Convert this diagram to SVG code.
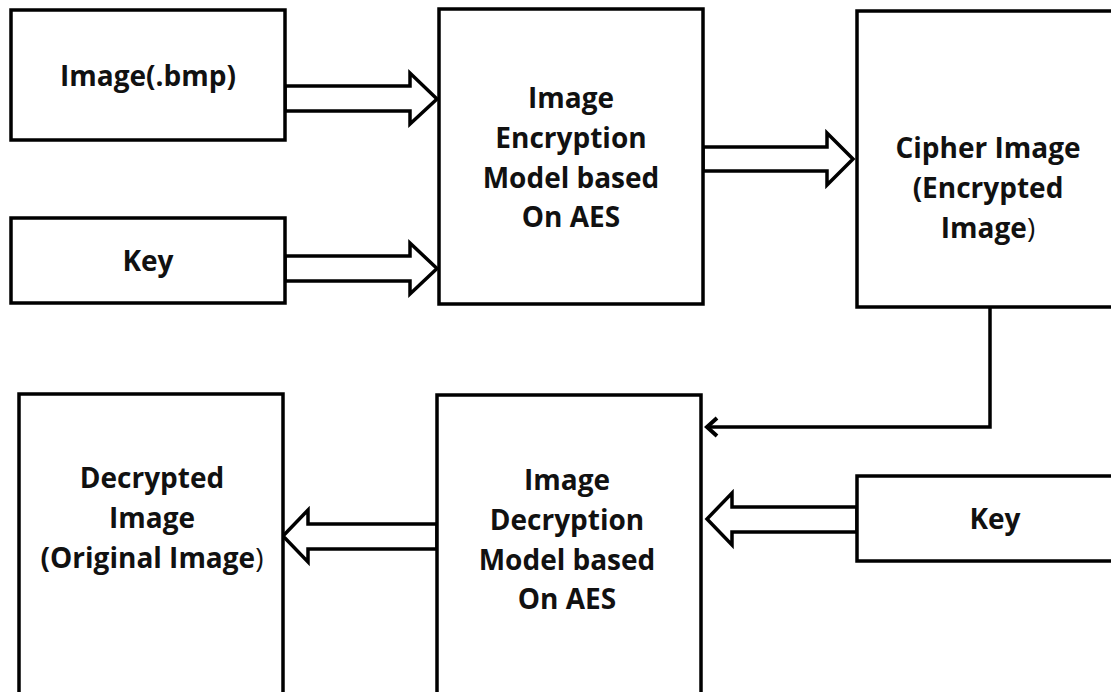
<svg xmlns="http://www.w3.org/2000/svg" width="1111" height="692" viewBox="0 0 1111 692">
  <style>
    .box { fill: #ffffff; stroke: #000000; stroke-width: 3.5; }
    .block { fill: #ffffff; stroke: #000000; stroke-width: 3.5; stroke-linejoin: miter; }
    .line { fill: none; stroke: #000000; stroke-width: 3.5; }
    .label { font-family: "Open Sans", Lato, sans-serif; font-weight: 700; font-size: 28px; fill: #111111; text-anchor: middle; }
    .thin { font-weight: 400; }
  </style>
  <defs>
    <marker id="chevron" viewBox="0 0 15 22" refX="13" refY="11" markerWidth="15" markerHeight="22" markerUnits="userSpaceOnUse" orient="auto">
      <path d="M2,2 L12,11 L2,20" fill="none" stroke="#000000" stroke-width="4"/>
    </marker>
  </defs>

  <rect width="1111" height="692" fill="#ffffff"/>

  <!-- Block arrows and the feedback line -->
  <g id="connectors">
    <polygon class="block" points="285,86 410,86 410,73 437,99 410,124 410,111 285,111"/>
    <polygon class="block" points="285,256 410,256 410,243 437,268.5 410,294 410,281 285,281"/>
    <polygon class="block" points="703,147 827,147 827,133 853,159 827,185 827,171 703,171"/>
    <polygon class="block" points="437,524 308,524 308,510 283,536 308,562 308,549 437,549"/>
    <polygon class="block" points="857,507 732,507 732,493 707,519 732,545 732,532 857,532"/>
    <path class="line" d="M990,307 V427 H706" marker-end="url(#chevron)"/>
  </g>

  <g id="image-bmp">
    <rect class="box" x="11" y="10" width="274" height="130"/>
    <text class="label" x="148" y="86">Image(.bmp)</text>
  </g>

  <g id="key-in">
    <rect class="box" x="11" y="218" width="274" height="85"/>
    <text class="label" x="148" y="271">Key</text>
  </g>

  <g id="encryption-model">
    <rect class="box" x="439" y="9" width="264" height="295"/>
    <text class="label" x="571" y="108">Image</text>
    <text class="label" x="571" y="148">Encryption</text>
    <text class="label" x="571" y="188">Model based</text>
    <text class="label" x="571" y="227">On AES</text>
  </g>

  <g id="cipher-image">
    <rect class="box" x="857" y="11" width="270" height="296"/>
    <text class="label" x="988" y="158">Cipher Image</text>
    <text class="label" x="988" y="198">(Encrypted</text>
    <text class="label" x="988" y="238">Image<tspan class="thin">)</tspan></text>
  </g>

  <g id="decrypted-image">
    <rect class="box" x="19" y="394" width="264" height="310"/>
    <text class="label" x="152" y="488">Decrypted</text>
    <text class="label" x="152" y="528">Image</text>
    <text class="label" x="152" y="568">(Original Image<tspan class="thin">)</tspan></text>
  </g>

  <g id="decryption-model">
    <rect class="box" x="437" y="395" width="264" height="310"/>
    <text class="label" x="567" y="490">Image</text>
    <text class="label" x="567" y="530">Decryption</text>
    <text class="label" x="567" y="570">Model based</text>
    <text class="label" x="567" y="609">On AES</text>
  </g>

  <g id="key-out">
    <rect class="box" x="857" y="476" width="270" height="85"/>
    <text class="label" x="995" y="529">Key</text>
  </g>
</svg>
